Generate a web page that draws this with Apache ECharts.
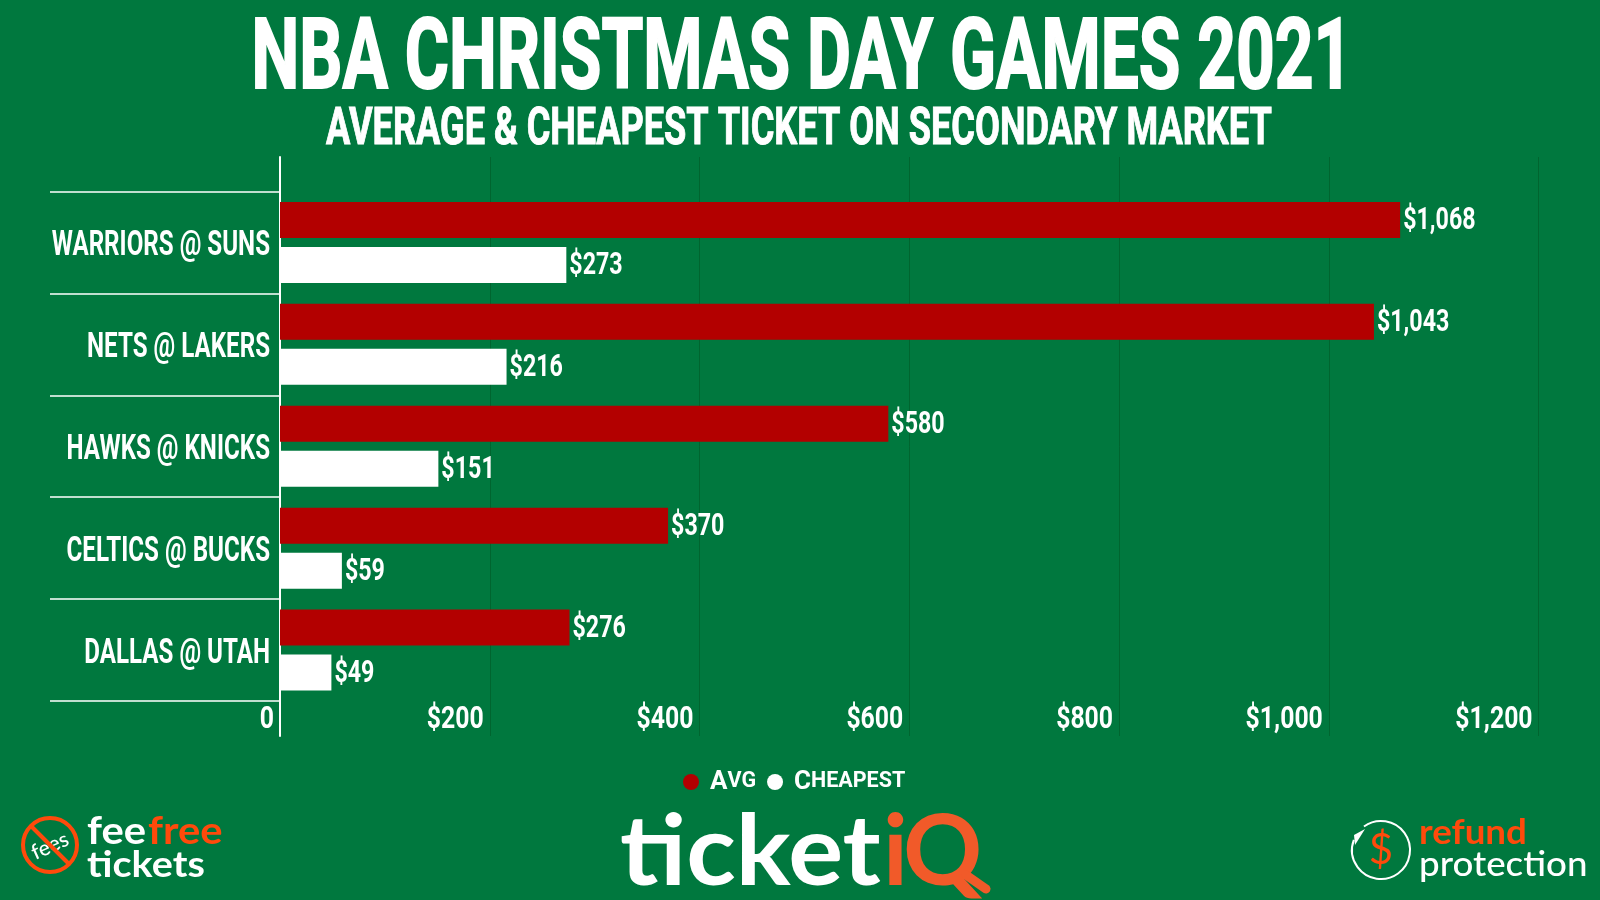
<!DOCTYPE html>
<html>
<head>
<meta charset="utf-8">
<title>NBA Christmas Day Games 2021</title>
<script src="https://cdn.jsdelivr.net/npm/echarts@6/dist/echarts.min.js"></script>
<style>
  html, body { margin: 0; padding: 0; background: #00783e; }
  #chart { width: 1600px; height: 900px; }
</style>
</head>
<body>
<div id="chart"></div>
<script>
// values
const games = ['WARRIORS @ SUNS', 'NETS @ LAKERS', 'HAWKS @ KNICKS', 'CELTICS @ BUCKS', 'DALLAS @ UTAH'];
const avgPrice = [1068, 1043, 580, 370, 276];
const cheapestPrice = [273, 216, 151, 59, 49];
const axisTicks = [0, 200, 400, 600, 800, 1000, 1200];

const GREEN = '#00783e';
const RED = '#b30000';
const ORANGE = '#ff4a0b';
const LOGO_ORANGE = '#f15a29';
const HEAD_FONT = 'Roboto';
const LOGO_FONT = 'Lato';

const money = v => (v === 0 ? '0' : '$' + v.toLocaleString('en-US'));

function txt(text, x, y, font, fill, extra) {
  return Object.assign({
    type: 'text', x: x, y: y,
    style: Object.assign({ text: text, font: font, fill: fill, align: 'left', verticalAlign: 'middle' }, (extra && extra.style) || {})
  }, extra && extra.el);
}

// no condensed font is installed, so the narrow labels are squeezed text placed through api.coord
function squeezed(text, x, y, size, scaleX, align) {
  return {
    type: 'text', x: x, y: y, scaleX: scaleX,
    style: { text: text, font: 'bold ' + size + 'px ' + HEAD_FONT, fill: '#fff', align: align, verticalAlign: 'middle' }
  };
}

// offset moves a price label from the middle of the band to the middle of its bar
function priceLabels(name, values, offset) {
  return {
    name: name + ' label', type: 'custom', xAxisIndex: 1, yAxisIndex: 1, silent: true, z: 5,
    data: values.map((v, i) => [v, i]),
    renderItem: (params, api) => {
      const p = api.coord([api.value(0), api.value(1)]);
      return squeezed(money(api.value(0)), p[0] + 3, p[1] + offset, 31, 0.75, 'left');
    }
  };
}

const chart = echarts.init(document.getElementById('chart'));

const option = {
  backgroundColor: GREEN,
  animation: false,
  // the tall grid only carries the axis line and the gridlines, the bars sit in the inner one
  grid: [
    { left: 280, top: 157, width: 1258.6, height: 579, outerBoundsMode: 'none' },
    { left: 280, top: 191.5, width: 1258.6, height: 509.5, outerBoundsMode: 'none' }
  ],
  xAxis: [
    {
      gridIndex: 0, type: 'value', min: 0, max: 1200, interval: 200,
      axisLine: { show: false }, axisTick: { show: false }, axisLabel: { show: false },
      splitLine: { show: true, lineStyle: { color: '#00652f', width: 1 } }
    },
    { gridIndex: 1, type: 'value', min: 0, max: 1200, show: false }
  ],
  yAxis: [
    {
      gridIndex: 0, type: 'value', min: 0, max: 1,
      axisLine: { show: true, onZero: false, lineStyle: { color: '#fff', width: 2 } },
      axisTick: { show: false }, axisLabel: { show: false }, splitLine: { show: false }
    },
    {
      gridIndex: 1, type: 'category', data: games, inverse: true,
      axisLine: { show: false },
      axisTick: { show: true, length: 230, lineStyle: { color: '#fff', width: 1.5 } },
      axisLabel: { show: false }
    }
  ],
  legend: {
    top: 764, left: 678, itemGap: 11, itemWidth: 16, itemHeight: 16, icon: 'circle',
    data: ['Avg', 'Cheapest'],
    formatter: name => '{big|' + name[0] + '}{small|' + name.slice(1).toUpperCase() + '}',
    textStyle: {
      color: '#fff',
      rich: {
        big: { color: '#fff', fontFamily: HEAD_FONT, fontWeight: 'bold', fontSize: 26, padding: [0, 0, 0, 6] },
        small: { color: '#fff', fontFamily: HEAD_FONT, fontWeight: 'bold', fontSize: 21.5 }
      }
    }
  },
  series: [
    {
      name: 'Avg', type: 'bar', xAxisIndex: 1, yAxisIndex: 1, data: avgPrice,
      barWidth: 36, barGap: '25%', itemStyle: { color: RED }
    },
    {
      name: 'Cheapest', type: 'bar', xAxisIndex: 1, yAxisIndex: 1, data: cheapestPrice,
      barWidth: 36, itemStyle: { color: '#fff' }
    },
    priceLabels('Avg', avgPrice, -21),
    priceLabels('Cheapest', cheapestPrice, 24),
    {
      name: 'game labels', type: 'custom', xAxisIndex: 1, yAxisIndex: 1, silent: true, z: 5,
      data: games.map((g, i) => [0, i]),
      renderItem: (params, api) => {
        const p = api.coord([0, api.value(1)]);
        return squeezed(games[api.value(1)], p[0] - 10, p[1] + 4, 35, 0.69, 'right');
      }
    },
    {
      name: 'tick labels', type: 'custom', xAxisIndex: 0, yAxisIndex: 0, silent: true, z: 5,
      data: axisTicks.map(t => [t, 0]),
      renderItem: (params, api) => {
        const p = api.coord([api.value(0), 0]);
        return squeezed(money(api.value(0)), p[0] - 6, p[1] - 16, 31, 0.8, 'right');
      }
    }
  ],
  graphic: [
    // titles
    txt('NBA CHRISTMAS DAY GAMES 2021', 802, 63, 'bold 98px ' + HEAD_FONT, '#fff', { style: { align: 'center', stroke: '#fff', lineWidth: 2 }, el: { scaleX: 0.69 } }),
    txt('AVERAGE & CHEAPEST TICKET ON SECONDARY MARKET', 799, 131, 'bold 52px ' + HEAD_FONT, '#fff', { style: { align: 'center', stroke: '#fff', lineWidth: 1 }, el: { scaleX: 0.695 } }),

    // fee free tickets
    { type: 'circle', shape: { cx: 50, cy: 845, r: 27 }, style: { fill: 'none', stroke: ORANGE, lineWidth: 4 } },
    txt('fees', 50, 846, '500 21px ' + LOGO_FONT, '#fff', { style: { align: 'center' }, el: { rotation: 0.42 } }),
    { type: 'line', shape: { x1: 31, y1: 826, x2: 69, y2: 864 }, style: { stroke: ORANGE, lineWidth: 4 } },
    txt('fee', 87, 832, 'bold 38px ' + LOGO_FONT, '#fff', { el: { scaleX: 1.1 } }),
    txt('free', 148, 832, 'bold 38px ' + LOGO_FONT, ORANGE, { el: { scaleX: 1.1 } }),
    txt('tickets', 87, 865, 'bold 36px ' + LOGO_FONT, '#fff', { el: { scaleX: 1.1 } }),

    // ticketiQ
    txt('ticket', 620, 853, 'bold 98px ' + LOGO_FONT, '#fff', { el: { scaleX: 1.05 } }),
    txt('i', 883, 853, 'bold 98px ' + LOGO_FONT, LOGO_ORANGE),
    txt('Q', 903, 853, 'bold 98px ' + LOGO_FONT, LOGO_ORANGE),
    { type: 'line', shape: { x1: 966, y1: 875, x2: 986, y2: 889 }, style: { stroke: LOGO_ORANGE, lineWidth: 9, lineCap: 'round' } },

    // refund protection
    { type: 'arc', shape: { cx: 1381, cy: 850, r: 29, startAngle: -2.2, endAngle: 3.5 }, style: { fill: 'none', stroke: '#fff', lineWidth: 2 } },
    { type: 'polygon', shape: { points: [[1365, 829], [1354, 835], [1355, 845]] }, style: { fill: '#fff' } },
    txt('$', 1381, 850, '400 42px ' + LOGO_FONT, ORANGE, { style: { align: 'center' } }),
    txt('refund', 1419, 833, 'bold 34px ' + LOGO_FONT, ORANGE, { el: { scaleX: 1.08 } }),
    txt('protection', 1419, 865, '500 34px ' + LOGO_FONT, '#fff', { el: { scaleX: 1.08 } })
  ]
};

chart.setOption(option);
</script>
</body>
</html>
